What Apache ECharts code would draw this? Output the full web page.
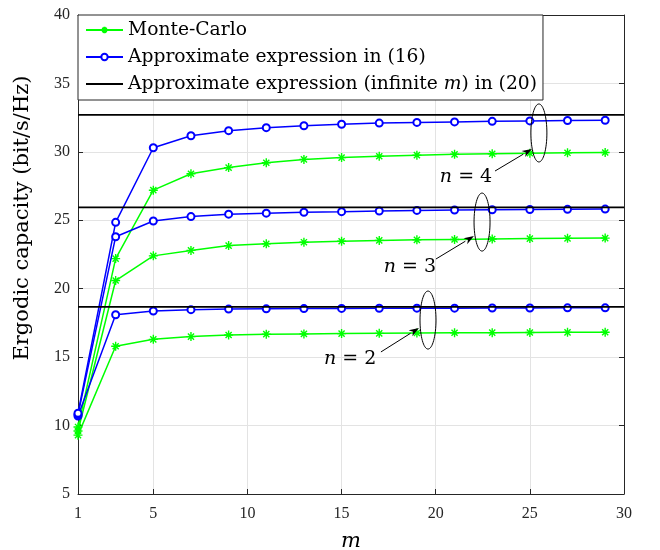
<!DOCTYPE html>
<html><head><meta charset="utf-8">
<script src="https://cdn.jsdelivr.net/npm/echarts@6/dist/echarts.min.js"></script>
<style>html,body{margin:0;padding:0;background:#fff}#c{width:660px;height:550px}</style>
</head><body><div id="c"></div>
<script>
// ---- data ----
const mValues = [1, 3, 5, 7, 9, 11, 13, 15, 17, 19, 21, 23, 25, 27, 29];
const mcN2 = [9.3, 15.8, 16.3, 16.5, 16.62, 16.68, 16.7, 16.72, 16.74, 16.76, 16.78, 16.79, 16.8, 16.81, 16.82];
const mcN3 = [9.6, 20.6, 22.4, 22.8, 23.15, 23.28, 23.4, 23.47, 23.53, 23.57, 23.6, 23.63, 23.66, 23.68, 23.7];
const mcN4 = [9.9, 22.2, 27.2, 28.4, 28.85, 29.2, 29.45, 29.58, 29.68, 29.76, 29.82, 29.86, 29.9, 29.93, 29.95];
const apN2 = [10.7, 18.1, 18.37, 18.47, 18.51, 18.53, 18.55, 18.56, 18.57, 18.58, 18.58, 18.59, 18.59, 18.6, 18.6];
const apN3 = [10.8, 23.8, 24.95, 25.27, 25.45, 25.52, 25.59, 25.63, 25.68, 25.72, 25.75, 25.77, 25.79, 25.8, 25.82];
const apN4 = [10.9, 24.85, 30.3, 31.18, 31.55, 31.77, 31.91, 32.02, 32.1, 32.15, 32.19, 32.23, 32.26, 32.29, 32.31];
const infN2 = 18.68, infN3 = 25.95, infN4 = 32.7;
const xRange = [1, 30];
const xTicks = [1, 5, 10, 15, 20, 25, 30];
const yTicks = [5, 10, 15, 20, 25, 30, 35, 40];
const legendNames = ['Monte-Carlo', 'Approximate expression in (16)', 'Approximate expression (infinite m) in (20)'];
const yTitle = 'Ergodic capacity (bit/s/Hz)';
const xTitle = 'm';

// annotation anchors (data coordinates)
const notes = [
  { n: '4', ell: [25.48, 31.38], from: [23.15, 28.6], to: [25.11, 30.21], text: [21.61, 28.16] },
  { n: '3', ell: [22.46, 24.87], from: [20.01, 22.17], to: [22.03, 23.85], text: [18.63, 21.58] },
  { n: '2', ell: [19.59, 17.71], from: [17.09, 15.38], to: [19.11, 17.13], text: [15.45, 14.86] }
];

const FONT = 'DejaVu Serif';
const TICKFONT = 'Liberation Serif';
const AX = '#262626';
const GREEN = '#00ff00', BLUE = '#0000ff';
const STAR = 'path://M5,0L5,10M0,5L10,5M1.6,1.6L8.4,8.4M1.6,8.4L8.4,1.6';

function pairs(vals) { return mValues.map((m, i) => [m, vals[i]]); }
function flat(v) { return [[xRange[0], v], [xRange[1], v]]; }

const mcSeries = [mcN2, mcN3, mcN4].map(d => ({
  name: legendNames[0], type: 'line', data: pairs(d),
  symbol: STAR, symbolSize: 9, showAllSymbol: true,
  lineStyle: { color: GREEN, width: 1.5 },
  itemStyle: { color: GREEN, borderColor: GREEN, borderWidth: 1.4 },
  z: 3
}));
const apSeries = [apN2, apN3, apN4].map(d => ({
  name: legendNames[1], type: 'line', data: pairs(d),
  symbol: 'emptyCircle', symbolSize: 7,
  lineStyle: { color: BLUE, width: 1.5 },
  itemStyle: { color: BLUE, borderColor: BLUE, borderWidth: 1.4 },
  z: 4
}));
const infSeries = [infN2, infN3, infN4].map(v => ({
  name: legendNames[2], type: 'line', data: flat(v),
  symbol: 'none', lineStyle: { color: '#000', width: 1.8 },
  itemStyle: { color: '#000' }, z: 5
}));

const tickCommon = { inside: true, length: 5, lineStyle: { color: AX } };
const chart = echarts.init(document.getElementById('c'), null, { renderer: 'canvas' });
chart.setOption({
  animation: false,
  backgroundColor: '#fff',
  grid: { left: 78, right: 36, top: 15, bottom: 56, containLabel: false, outerBoundsMode: 'none' },
  legend: {
    left: 78, top: 15, orient: 'vertical',
    backgroundColor: '#fff', borderColor: AX, borderWidth: 1,
    padding: [5, 6, 6, 7], itemGap: 7, itemWidth: 37, itemHeight: 8, itemTextGap: 4,
    data: [
      { name: legendNames[0] },
      { name: legendNames[1] },
      { name: legendNames[2], itemStyle: { opacity: 0 } }
    ],
    formatter: name => name.replace('infinite m', 'infinite {i|m}'),
    textStyle: { fontFamily: FONT, fontSize: 18.7, lineHeight: 20, color: '#000',
      rich: { i: { fontFamily: FONT, fontSize: 18.7, lineHeight: 20, fontStyle: 'italic', color: '#000' } } },
    z: 10
  },
  xAxis: [{
    type: 'value', min: xRange[0], max: xRange[1],
    name: xTitle, nameLocation: 'middle', nameGap: 37,
    nameTextStyle: { fontFamily: FONT, fontSize: 21, fontStyle: 'italic', color: '#000' },
    axisLine: { lineStyle: { color: AX } },
    axisTick: Object.assign({ customValues: xTicks }, tickCommon),
    axisLabel: { customValues: xTicks, fontFamily: TICKFONT, fontSize: 16, color: '#262626', margin: 12 },
    splitLine: { show: true, lineStyle: { color: '#e3e3e3' } }
  }, {
    type: 'value', position: 'top', min: xRange[0], max: xRange[1],
    axisLine: { show: true, lineStyle: { color: AX } },
    axisTick: Object.assign({ customValues: xTicks }, tickCommon),
    axisLabel: { show: false }, splitLine: { show: false }
  }],
  yAxis: [{
    type: 'value', min: yTicks[0], max: yTicks[yTicks.length - 1], interval: 5,
    axisLine: { show: true, lineStyle: { color: AX } },
    axisTick: tickCommon,
    axisLabel: { fontFamily: TICKFONT, fontSize: 16, color: '#262626', margin: 8 },
    splitLine: { show: true, lineStyle: { color: '#e3e3e3' } }
  }, {
    type: 'value', position: 'right', min: yTicks[0], max: yTicks[yTicks.length - 1], interval: 5,
    axisLine: { show: true, lineStyle: { color: AX } },
    axisTick: tickCommon, axisLabel: { show: false }, splitLine: { show: false }
  }],
  series: [...infSeries, ...mcSeries, ...apSeries]
});

// annotations: ellipses, arrows, labels positioned from data coordinates
const px = p => chart.convertToPixel({ xAxisIndex: 0, yAxisIndex: 0 }, p);
const elems = [{
  type: 'text', x: 23, y: 218, rotation: Math.PI / 2, z: 20,
  style: { text: yTitle, align: 'center', verticalAlign: 'middle', fontFamily: FONT, fontSize: 21, fill: '#000' }
}];
notes.forEach(nt => {
  const c = px(nt.ell), a = px(nt.from), b = px(nt.to), t = px(nt.text);
  elems.push({ type: 'ellipse', shape: { cx: c[0], cy: c[1], rx: 8, ry: 29 },
    style: { fill: 'none', stroke: '#000', lineWidth: 1 }, z: 20 });
  const ang = Math.atan2(b[1] - a[1], b[0] - a[0]);
  const L = 10, W = 3.5;
  const bx = b[0] - L * Math.cos(ang), by = b[1] - L * Math.sin(ang);
  elems.push({ type: 'line', shape: { x1: a[0], y1: a[1], x2: bx, y2: by },
    style: { stroke: '#000', lineWidth: 1 }, z: 20 });
  elems.push({ type: 'polygon', shape: { points: [
      [b[0], b[1]],
      [bx + W * Math.sin(ang), by - W * Math.cos(ang)],
      [b[0] - 0.7 * L * Math.cos(ang), b[1] - 0.7 * L * Math.sin(ang)],
      [bx - W * Math.sin(ang), by + W * Math.cos(ang)]
    ] }, style: { fill: '#000' }, z: 20 });
  elems.push({ type: 'text', x: t[0], y: t[1], z: 20,
    style: { text: '{i|n} = ' + nt.n, align: 'center', verticalAlign: 'middle',
      fontFamily: FONT, fontSize: 19, fill: '#000',
      rich: { i: { fontFamily: FONT, fontSize: 19, fontStyle: 'italic', fill: '#000' } } } });
});
chart.setOption({ graphic: { elements: elems } });
</script>
</body></html>
